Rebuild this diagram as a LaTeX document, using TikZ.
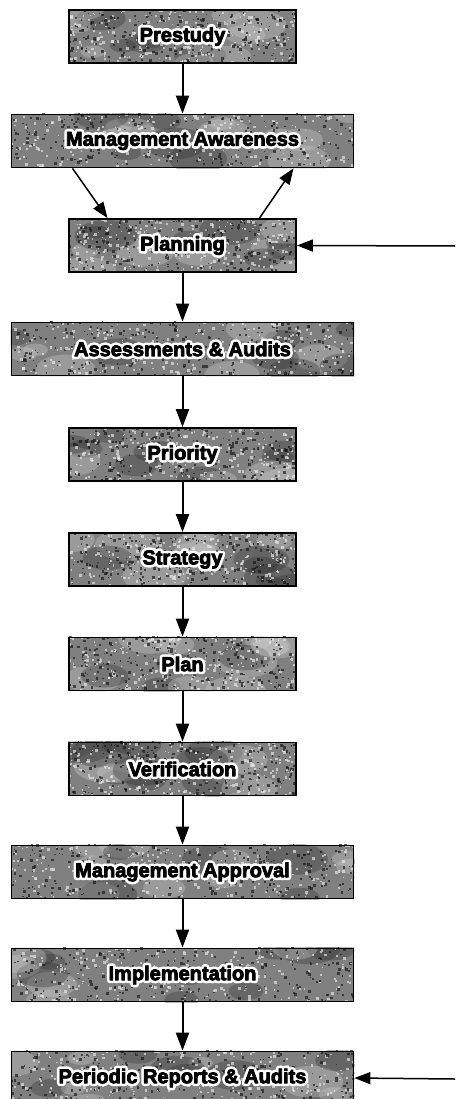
\documentclass[tikz,border=0pt]{standalone}
\usepackage{fontspec}
\setmainfont{Liberation Sans}
\usetikzlibrary{arrows.meta,calc}
\pgfdeclarelayer{background}
\pgfsetlayers{background,main}

% heavy label with a white halo round the letters (round joins keep the halo smooth)
\newcommand\haloed[1]{%
  \special{pdf:literal direct 1 j 1 J}%
  \rlap{\color{white}\addfontfeature{FakeBold=30}#1}%
  {\addfontfeature{FakeBold=4}#1}}

% grainy grey fill behind a named box
\newcommand\grain[1]{%
  \begin{pgfonlayer}{background}
    \path (#1.south west); \pgfgetlastxy{\gxa}{\gya}
    \path (#1.north east); \pgfgetlastxy{\gxb}{\gyb}
    \fill[black!50] (#1.south west) rectangle (#1.north east);
    \begin{scope}
      \clip (#1.south west) rectangle (#1.north east);
      % a few soft blotches
      \foreach \k in {1,...,14}{
        \pgfmathsetmacro\gu{rnd}
        \pgfmathsetmacro\gv{rnd}
        \pgfmathsetmacro\gr{6+10*rnd}
        \pgfmathsetmacro\gc{rnd<0.5 ? 20 : 80}
        \fill[black!\gc, opacity=0.35]
          (\gxa+\gu*\gxb-\gu*\gxa, \gya+\gv*\gyb-\gv*\gya) ellipse [x radius=2*\gr pt, y radius=\gr pt];
      }
      % fine grain
      \foreach \k in {1,...,520}{
        \pgfmathsetmacro\gu{rnd}
        \pgfmathsetmacro\gv{rnd}
        \pgfmathsetmacro\gs{1+2*rnd}
        \pgfmathsetmacro\gc{rnd<0.5 ? 8 : 92}
        \fill[black!\gc, opacity=0.65]
          (\gxa+\gu*\gxb-\gu*\gxa, \gya+\gv*\gyb-\gv*\gya) rectangle +(\gs pt,\gs pt);
      }
    \end{scope}
  \end{pgfonlayer}}

\tikzset{
  stage/.style={draw=black, line width=1.8pt, inner sep=0pt, minimum height=53pt,
                font=\fontsize{20}{24}\selectfont\bfseries},
  narrow/.style={stage, minimum width=227pt},
  wide/.style={stage, minimum width=342pt},
  flow/.style={line width=2pt, -{Triangle[length=18pt,width=13pt]}},
  loop/.style={line width=1.5pt, -{Triangle[length=16pt,width=12pt]}},
}

\begin{document}
\begin{tikzpicture}[x=1pt,y=-1pt]
\pgfmathsetseed{42}
\useasboundingbox (0,0) rectangle (455,1099);

% process stages
\node[narrow] (prestudy)  at (182.5,36.5)  {\haloed{Prestudy}};
\node[wide]   (awareness) at (182.5,141)   {\haloed{Management Awareness}};
\node[narrow] (planning)  at (182.5,245.5) {\haloed{Planning}};
\node[wide]   (assess)    at (182.5,349)   {\haloed{Assessments \& Audits}};
\node[narrow] (priority)  at (182.5,454.5) {\haloed{Priority}};
\node[narrow] (strategy)  at (182.5,559.5) {\haloed{Strategy}};
\node[narrow] (plan)      at (182.5,664)   {\haloed{Plan}};
\node[narrow] (verify)    at (182.5,769)   {\haloed{Verification}};
\node[wide]   (approval)  at (182.5,872)   {\haloed{Management Approval}};
\node[wide]   (implement) at (182.5,975)   {\haloed{Implementation}};
\node[wide]   (reports)   at (182.5,1078)  {\haloed{Periodic Reports \& Audits}};

\foreach \n in {prestudy,awareness,planning,assess,priority,strategy,plan,verify,approval,implement,reports}
  {\grain{\n}}

% main flow
\draw[flow] (prestudy)  -- (awareness);
\draw[flow] (planning)  -- (assess);
\draw[flow] (assess)    -- (priority);
\draw[flow] (priority)  -- (strategy);
\draw[flow] (strategy)  -- (plan);
\draw[flow] (plan)      -- (verify);
\draw[flow] (verify)    -- (approval);
\draw[flow] (approval)  -- (implement);
\draw[flow] (implement) -- (reports);

% exchange between awareness and planning
\draw[loop] ([xshift=-110pt]awareness.south) -- ([xshift=-75pt]planning.north);
\draw[loop] ([xshift=77pt]planning.north) -- ([xshift=111pt]awareness.south);

% inputs from the right
\coordinate (inPlan) at (455,246);
\coordinate (inRep)  at (455,1079);
\draw[loop] (inPlan) -- (planning.east);
\draw[loop] (inRep)  -- (reports.east);
\end{tikzpicture}
\end{document}
